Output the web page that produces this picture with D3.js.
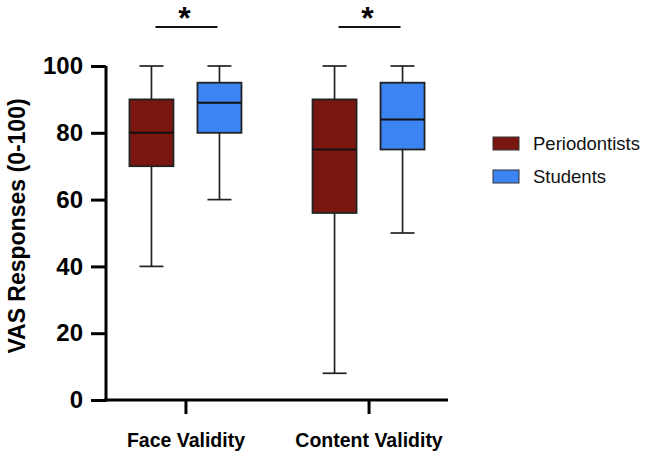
<!DOCTYPE html>
<html>
<head>
<meta charset="utf-8">
<script src="https://cdn.jsdelivr.net/npm/d3@7"></script>
<style>
  html, body { margin: 0; padding: 0; background: #fff; overflow: hidden; }
  svg { display: block; font-family: 'Liberation Sans', Arial, sans-serif; }
</style>
</head>
<body>
<svg width="646" height="454"></svg>
<script>
// data
const categories = ['Face Validity', 'Content Validity'];
const groups = ['Periodontists', 'Students'];
const yTicks = [0, 20, 40, 60, 80, 100];

// [min, q1, median, q3, max] per category
const periodontists = [[40, 70, 80, 90, 100], [8, 56, 75, 90, 100]];
const students = [[60, 80, 89, 95, 100], [50, 75, 84, 95, 100]];

const colors = { Periodontists: '#7a1610', Students: '#3b84f2' };

const svg = d3.select('svg');

const margin = { top: 66, right: 198, bottom: 54, left: 106 };
const width = +svg.attr('width');
const height = +svg.attr('height');
const innerWidth = width - margin.left - margin.right;
const innerHeight = height - margin.top - margin.bottom;

const g = svg.append('g')
  .attr('transform', `translate(${margin.left},${margin.top})`);

const xScale = d3.scalePoint()
  .domain(categories)
  .range([0, innerWidth])
  .padding(0.434);

const subScale = d3.scalePoint()
  .domain(groups)
  .range([-34, 34]);

const yScale = d3.scaleLinear()
  .domain([0, 100])
  .range([innerHeight, 0]);

const boxW = 44;
const capW = 24;

// y axis
const yAxis = d3.axisLeft(yScale)
  .tickValues(yTicks)
  .tickSize(15)
  .tickPadding(8);

const yAxisG = g.append('g').call(yAxis)
  .attr('font-family', null);
yAxisG.select('.domain')
  .attr('stroke', '#000').attr('stroke-width', 3)
  .attr('d', `M0,${innerHeight + 1.5}V0`);
yAxisG.selectAll('.tick line').attr('stroke', '#000').attr('stroke-width', 3);
yAxisG.selectAll('.tick text')
  .attr('font-size', 24).attr('font-weight', 'bold').attr('fill', '#000');

// x axis
const xAxis = d3.axisBottom(xScale)
  .tickSize(14)
  .tickPadding(15);

const xAxisG = g.append('g')
  .attr('transform', `translate(0,${innerHeight})`)
  .call(xAxis)
  .attr('font-family', null);
xAxisG.select('.domain')
  .attr('stroke', '#000').attr('stroke-width', 3)
  .attr('d', `M-1.5,0H${innerWidth}`);
xAxisG.selectAll('.tick line').attr('stroke', '#000').attr('stroke-width', 3);
xAxisG.selectAll('.tick text')
  .attr('font-size', 19.5).attr('font-weight', 'bold').attr('fill', '#000')
  .attr('dy', '0.92em');

// y axis title
svg.append('text')
  .attr('transform', `translate(25, 226) rotate(-90)`)
  .attr('text-anchor', 'middle')
  .attr('font-size', 23)
  .attr('font-weight', 'bold')
  .text('VAS Responses (0-100)');

// boxes
const rows = [];
categories.forEach((c, i) => {
  rows.push({ cat: c, group: 'Periodontists', s: periodontists[i] });
  rows.push({ cat: c, group: 'Students', s: students[i] });
});

const boxG = g.selectAll('.box').data(rows)
  .enter().append('g')
    .attr('class', 'box')
    .attr('transform', d => `translate(${xScale(d.cat) + subScale(d.group)},0)`);

boxG.append('line')
  .attr('y1', d => yScale(d.s[0]))
  .attr('y2', d => yScale(d.s[4]))
  .attr('stroke', '#222').attr('stroke-width', 1.7);

boxG.selectAll('.cap').data(d => [d.s[0], d.s[4]])
  .enter().append('line')
    .attr('class', 'cap')
    .attr('x1', -capW / 2).attr('x2', capW / 2)
    .attr('y1', d => yScale(d)).attr('y2', d => yScale(d))
    .attr('stroke', '#222').attr('stroke-width', 1.7);

boxG.append('rect')
  .attr('x', -boxW / 2)
  .attr('width', boxW)
  .attr('y', d => yScale(d.s[3]))
  .attr('height', d => yScale(d.s[1]) - yScale(d.s[3]))
  .attr('fill', d => colors[d.group])
  .attr('stroke', '#222').attr('stroke-width', 1.8);

boxG.append('line')
  .attr('x1', -boxW / 2).attr('x2', boxW / 2)
  .attr('y1', d => yScale(d.s[2])).attr('y2', d => yScale(d.s[2]))
  .attr('stroke', '#111').attr('stroke-width', 2);

// significance markers
const sigG = g.selectAll('.sig').data(categories)
  .enter().append('g')
    .attr('class', 'sig')
    .attr('transform', d => `translate(${xScale(d)},0)`);

sigG.append('line')
  .attr('x1', subScale('Periodontists') + 4)
  .attr('x2', subScale('Students') - 2)
  .attr('y1', -39).attr('y2', -39)
  .attr('stroke', '#111').attr('stroke-width', 2);

sigG.append('text')
  .attr('text-anchor', 'middle')
  .attr('x', -1)
  .attr('y', -37)
  .attr('font-size', 32)
  .attr('font-weight', 'bold')
  .text('*');

// legend
const legend = svg.append('g')
  .attr('transform', 'translate(493,137)');

const item = legend.selectAll('.item').data(groups)
  .enter().append('g')
    .attr('class', 'item')
    .attr('transform', (d, i) => `translate(0,${i * 33})`);

item.append('rect')
  .attr('width', 26).attr('height', 13)
  .attr('fill', d => colors[d])
  .attr('stroke', '#333').attr('stroke-width', 1);

item.append('text')
  .attr('x', 40).attr('y', 13)
  .attr('font-size', 18.5)
  .attr('fill', '#111')
  .text(d => d);
</script>
</body>
</html>
